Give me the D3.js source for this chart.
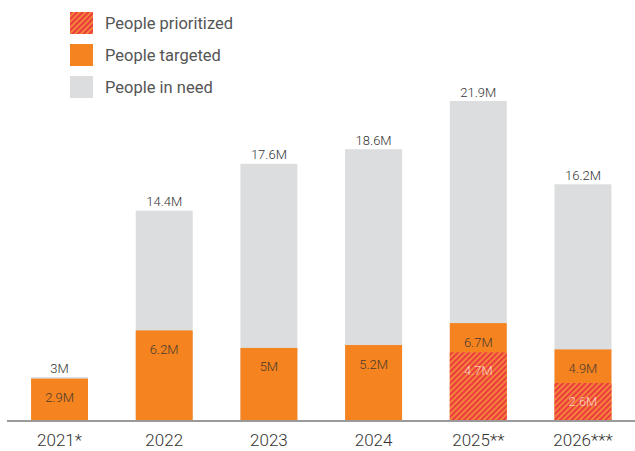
<!DOCTYPE html>
<html>
<head>
<meta charset="utf-8">
<script src="https://cdn.jsdelivr.net/npm/d3@7/dist/d3.min.js"></script>
<style>
  html, body { margin: 0; padding: 0; background: #fff; }
  svg { display: block; font-family: Roboto, "Noto Sans", sans-serif; }
</style>
</head>
<body>
<svg id="chart" width="635" height="451"></svg>
<script>
// Humanitarian response figures by year (millions of people)
const years = ["2021*", "2022", "2023", "2024", "2025**", "2026***"];
const peopleInNeed = [3, 14.4, 17.6, 18.6, 21.9, 16.2];
const peopleTargeted = [2.9, 6.2, 5, 5.2, 6.7, 4.9];
const peoplePrioritized = [null, null, null, null, 4.7, 2.6];
const legendLabels = ["People prioritized", "People targeted", "People in need"];

const colors = { need: "#dcddde", targeted: "#f58420", hatchA: "#ec3b3e", hatchB: "#f58a3a" };

const svg = d3.select("#chart");
const baseY = 421;

const x = d3.scaleBand().domain(years).range([7.5, 635]).paddingInner(0.456).paddingOuter(0.225);
const y = d3.scaleLinear().domain([0, 21.9]).range([baseY, 101]);

// striped fill for the prioritized segment
const defs = svg.append("defs");
const pat = defs.append("pattern")
  .attr("id", "hatch")
  .attr("patternUnits", "userSpaceOnUse")
  .attr("width", 4).attr("height", 4)
  .attr("patternTransform", "rotate(45)");
pat.append("rect").attr("width", 4).attr("height", 4).attr("fill", colors.hatchB);
pat.append("rect").attr("width", 2.2).attr("height", 4).attr("fill", colors.hatchA);

const rows = years.map((yr, i) => ({
  year: yr, need: peopleInNeed[i], targeted: peopleTargeted[i], prioritized: peoplePrioritized[i]
}));

const bars = svg.append("g");
// people in need (background bar)
bars.selectAll(".need").data(rows).join("rect")
  .attr("x", d => x(d.year)).attr("width", x.bandwidth())
  .attr("y", d => y(d.need)).attr("height", d => baseY - y(d.need))
  .attr("fill", colors.need);
// people targeted
bars.selectAll(".tgt").data(rows).join("rect")
  .attr("x", d => x(d.year)).attr("width", x.bandwidth())
  .attr("y", d => y(d.targeted)).attr("height", d => baseY - y(d.targeted))
  .attr("fill", colors.targeted);
// people prioritized
const pri = rows.filter(d => d.prioritized != null);
bars.selectAll(".pri").data(pri).join("rect")
  .attr("x", d => x(d.year)).attr("width", x.bandwidth())
  .attr("y", d => y(d.prioritized)).attr("height", d => baseY - y(d.prioritized))
  .attr("fill", "url(#hatch)");

const fmt = v => v + "M";
const labels = svg.append("g").attr("font-size", 13).attr("font-weight", 300)
  .attr("text-anchor", "middle");
labels.selectAll(".ln").data(rows).join("text")
  .attr("x", d => x(d.year) + x.bandwidth() / 2)
  .attr("y", d => y(d.need) - 4.5)
  .attr("fill", "#333")
  .text(d => fmt(d.need));
labels.selectAll(".lt").data(rows).join("text")
  .attr("x", d => x(d.year) + x.bandwidth() / 2)
  .attr("y", d => y(d.targeted) + 23.5)
  .attr("fill", "#4a3a2e")
  .text(d => fmt(d.targeted));
labels.selectAll(".lp").data(pri).join("text")
  .attr("x", d => x(d.year) + x.bandwidth() / 2)
  .attr("y", d => y(d.prioritized) + 23)
  .attr("fill", "#fde6df").attr("fill-opacity", 0.85)
  .text(d => fmt(d.prioritized));

// baseline axis with year labels
const axis = svg.append("g").attr("transform", `translate(0,${baseY})`)
  .call(d3.axisBottom(x).tickSize(0).tickPadding(13));
axis.select(".domain").attr("stroke", "#9a9a9a").attr("stroke-width", 2.2)
  .attr("d", "M7,0H635");
axis.selectAll("text").attr("font-size", 17).attr("font-weight", 300).attr("fill", "#333")
  .attr("font-family", "Roboto, sans-serif");

// legend
const legend = svg.append("g").attr("transform", "translate(70,12)");
const swatchFills = ["url(#hatch)", colors.targeted, colors.need];
legendLabels.forEach((lab, i) => {
  const g = legend.append("g").attr("transform", `translate(0,${i * 32})`);
  g.append("rect").attr("width", 23).attr("height", 22).attr("fill", swatchFills[i]);
  g.append("text").attr("x", 35).attr("y", 11).attr("dy", "0.36em")
    .attr("font-size", 16.5).attr("fill", "#555").text(lab);
});
</script>
</body>
</html>
